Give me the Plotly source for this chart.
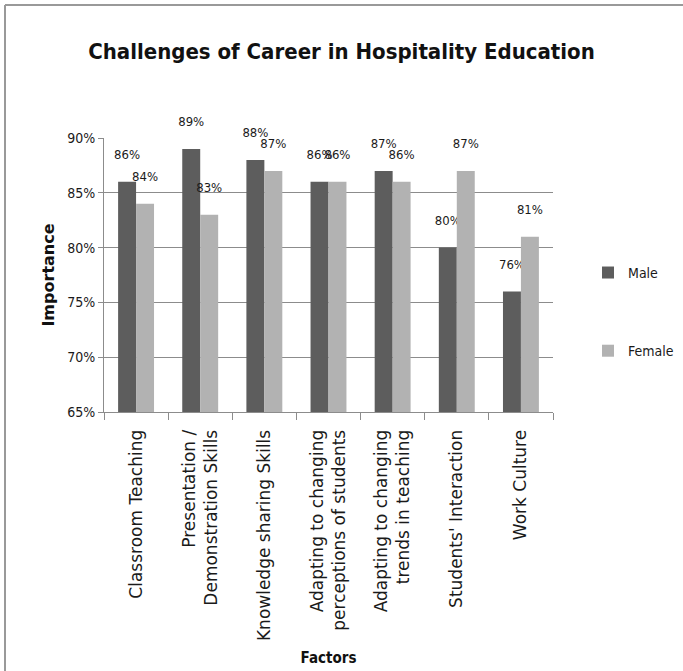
import plotly.graph_objects as go

factors = [
    "Classroom Teaching",
    "Presentation /<br>Demonstration Skills",
    "Knowledge sharing Skills",
    "Adapting to changing<br>perceptions of students",
    "Adapting to changing<br>trends in teaching",
    "Students' Interaction",
    "Work Culture",
]
male = [0.86, 0.89, 0.88, 0.86, 0.87, 0.80, 0.76]
female = [0.84, 0.83, 0.87, 0.86, 0.86, 0.87, 0.81]

narrow = "DejaVu Sans Condensed, Liberation Sans, sans-serif"
wide = "DejaVu Sans, Verdana, sans-serif"

fig = go.Figure()
for name, vals, color in [("Male", male, "#5d5d5d"), ("Female", female, "#b2b2b2")]:
    fig.add_trace(go.Bar(
        x=factors, y=vals, name=name, legendgroup=name,
        marker=dict(color=color, line=dict(width=0)),
        texttemplate="%{y:.0%}<br> ", textposition="outside",
        textfont=dict(family=narrow, size=13, color="#1a1a1a"),
        constraintext="none", cliponaxis=False,
    ))

# plot area: x 104..553, y 138..412
pw, ph = 449, 274
fig.update_layout(
    width=683, height=671,
    paper_bgcolor="white", plot_bgcolor="white",
    margin=dict(l=104, r=130, t=138, b=259, autoexpand=False),
    barmode="group", bargap=0.44, bargroupgap=0,
    title=dict(
        text="<b>Challenges of Career in Hospitality Education</b>",
        x=0.5, xanchor="center", y=0.923, yanchor="middle",
        font=dict(family=narrow, size=22, color="#111111"),
    ),
    legend=dict(
        x=1.078, y=0.566, xanchor="left", yanchor="top",
        font=dict(family=narrow, size=14, color="#1a1a1a"),
        tracegroupgap=57, itemwidth=30,
    ),
    showlegend=True,
)

fig.update_yaxes(
    range=[0.65, 0.90], dtick=0.05, tickformat=".0%",
    showgrid=True, gridcolor="#8c8c8c", gridwidth=1,
    showline=True, linecolor="#8c8c8c", linewidth=1,
    ticks="outside", ticklen=5, tickcolor="#8c8c8c",
    tickfont=dict(family=narrow, size=14, color="#1a1a1a"),
    title=dict(text="<b>Importance</b>", standoff=8,
               font=dict(family=wide, size=16, color="#111111")),
    zeroline=False,
)
fig.update_xaxes(
    tickangle=-90, tickson="boundaries",
    showline=True, linecolor="#8c8c8c", linewidth=1,
    ticks="outside", ticklen=7, tickcolor="#8c8c8c",
    ticklabelstandoff=10,
    tickfont=dict(family=wide, size=17, color="#1a1a1a"),
    title=dict(text="<b>Factors</b>", standoff=12,
               font=dict(family=narrow, size=15, color="#111111")),
)

# grey frame on left and top edges
fx = (5 - 104) / pw
fy = (412 - 5) / ph
fig.add_shape(type="line", xref="paper", yref="paper",
              x0=fx, x1=fx, y0=fy, y1=(412 - 671) / ph,
              line=dict(color="#999999", width=2))
fig.add_shape(type="line", xref="paper", yref="paper",
              x0=fx, x1=(683 - 104) / pw, y0=fy, y1=fy,
              line=dict(color="#999999", width=2))

fig.write_html("out.html", config={"displayModeBar": False},
               post_script="document.body.style.margin='0';")
